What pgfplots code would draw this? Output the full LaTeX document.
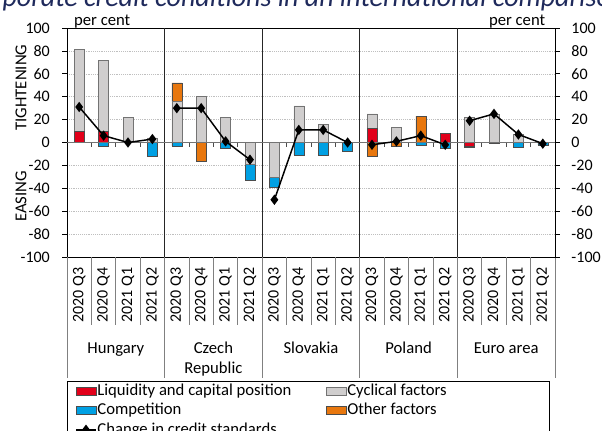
\documentclass[11pt,border=0pt]{standalone}
\usepackage{fontspec}
\setmainfont{Carlito}
\usepackage{pgfplots}
\usepackage{pgfplotstable}
\pgfplotsset{compat=1.18}

\definecolor{liqred}{RGB}{226,0,26}
\definecolor{cycgray}{RGB}{208,206,206}
\definecolor{compblue}{RGB}{0,160,227}
\definecolor{othorange}{RGB}{232,119,14}
\definecolor{titlenavy}{RGB}{31,42,92}

% positive contributions (stacked upwards)
\pgfplotstableread{
x liq cyc oth
0 10 71 0
1 10 62 0
2 0 22 0
3 0 4 0
4 0 36 16
5 0 40 0
6 0 22 0
7 0 0 0
8 0 0 0
9 0 32 0
10 0 16 0
11 0 0 0
12 12 13 0
13 0 13 0
14 0 0 23
15 8 0 0
16 0 22 0
17 0 25 0
18 0 7 0
19 0 0 0
}\postable

% negative contributions (stacked downwards)
\pgfplotstableread{
x liq cyc comp oth
0 0 0 0 0
1 0 0 -3 0
2 0 0 0 0
3 0 0 -12 0
4 0 0 -3 0
5 0 0 0 -16
6 0 0 -5 0
7 0 -19 -14 0
8 0 -30 -9 0
9 0 0 -11 0
10 0 0 -11 0
11 0 0 -8 0
12 0 0 0 -12
13 0 0 0 -3
14 0 0 -2 0
15 0 0 -5 0
16 -3 0 -1 0
17 0 0 -1 0
18 0 0 -4 0
19 0 0 -2 0
}\negtable

% change in credit standards, gaps between countries
\pgfplotstableread{
x y
0 31
1 6
2 0
3 3
3.5 nan
4 30
5 30
6 1
7 -15
7.5 nan
8 -50
9 11
10 11
11 0
11.5 nan
12 -2
13 1
14 6
15 -2
15.5 nan
16 19
17 25
18 7
19 -1
}\linetable

\pgfplotsset{
  common/.style={
    at={(50.25pt,129.75pt)}, anchor=south west,
    scale only axis, width=366pt, height=171.75pt,
    xmin=-0.5, xmax=19.5, ymin=-100, ymax=100,
    clip=false,
  },
  barleg/.style={legend image code/.code={\draw[##1] (0pt,-3pt) rectangle (15pt,3pt);}},
  linleg/.style={legend image code/.code={%
    \draw[##1, mark=none] (0pt,0pt) -- (15pt,0pt);
    \fill[black] (7.5pt,3pt) -- (5.25pt,0pt) -- (7.5pt,-3pt) -- (9.75pt,0pt) -- cycle;}},
}

\begin{document}
\fontsize{12.5}{15}\selectfont
\begin{tikzpicture}
\useasboundingbox (0,0) rectangle (451.5pt,322.5pt);

\node[anchor=base, font=\fontsize{21}{25}\selectfont\itshape, text=titlenavy]
  at (221pt,317.8pt) {Corporate credit conditions in an international comparison};

\begin{axis}[
  common,
  ybar stacked, bar width=7.5pt,
  axis line style={black, line width=0.6pt},
  tick align=outside,
  major tick length=3.5pt,
  ytick={-100,-80,...,100},
  yticklabels={-100,-80,-60,-40,-20,0,20,40,60,80,100},
  ytick pos=both, yticklabel pos=left,
  y tick style={black, line width=0.6pt},
  yticklabel style={xshift=-5pt, font=\fontsize{12}{14}\selectfont},
  xtick={0,...,19},
  xticklabels={2020 Q3,2020 Q4,2021 Q1,2021 Q2,2020 Q3,2020 Q4,2021 Q1,2021 Q2,2020 Q3,2020 Q4,2021 Q1,2021 Q2,2020 Q3,2020 Q4,2021 Q1,2021 Q2,2020 Q3,2020 Q4,2021 Q1,2021 Q2},
  x tick style={draw=none},
  xticklabel style={rotate=90, anchor=east, font=\fontsize{12}{14}\selectfont},
  ymajorgrids, grid style={densely dotted, black!25},
]
\addplot[fill=liqred, draw=black!70] table[x=x,y=liq]{\postable};
\addplot[fill=cycgray, draw=black!55] table[x=x,y=cyc]{\postable};
\addplot[fill=othorange, draw=black!70] table[x=x,y=oth]{\postable};

% country separators
\pgfplotsinvokeforeach{3.5,7.5,11.5,15.5}{
  \draw[black!85, line width=0.6pt] (axis cs:#1,-100) -- (axis cs:#1,100);
}
\pgfplotsinvokeforeach{-0.5,0.5,...,19.5}{
  \draw[black!50, line width=0.6pt] (axis cs:#1,-100) -- ++(0pt,-51pt);
}
\pgfplotsinvokeforeach{-0.5,3.5,7.5,11.5,15.5,19.5}{
  \draw[black!50, line width=0.6pt] (axis cs:#1,-100) -- ++(0pt,-90.75pt);
}

\node[anchor=base] at ([yshift=-72pt]axis cs:1.5,-100) {Hungary};
\node[anchor=base] at ([yshift=-72pt]axis cs:5.5,-100) {Czech};
\node[anchor=base] at ([yshift=-87pt]axis cs:5.5,-100) {Republic};
\node[anchor=base] at ([yshift=-72pt]axis cs:9.5,-100) {Slovakia};
\node[anchor=base] at ([yshift=-72pt]axis cs:13.5,-100) {Poland};
\node[anchor=base] at ([yshift=-72pt]axis cs:17.5,-100) {Euro area};

\node[anchor=base west] at ([xshift=1pt,yshift=2pt]axis cs:-0.5,100) {per cent};
\node[anchor=base east] at ([xshift=-3pt,yshift=2pt]axis cs:19.5,100) {per cent};
\node[rotate=90] at ([xshift=-34.5pt]axis cs:-0.5,48) {TIGHTENING};
\node[rotate=90] at ([xshift=-34.5pt]axis cs:-0.5,-47) {EASING};
\end{axis}

\begin{axis}[
  common,
  ybar stacked, bar width=7.5pt,
  hide x axis,
  axis y line*=right,
  axis line style={black, line width=0.6pt},
  tick align=outside,
  major tick length=3.5pt,
  ytick={-100,-80,...,100},
  yticklabels={-100,-80,-60,-40,-20,0,20,40,60,80,100},
  y tick style={black, line width=0.6pt},
  yticklabel style={xshift=4.5pt, font=\fontsize{12}{14}\selectfont},
  legend columns=2,
  legend cell align=left,
  legend style={at={(0,0)}, anchor=north west, yshift=-93pt,
    draw=black, inner xsep=6pt, inner ysep=1pt, row sep=2pt,
    nodes={inner xsep=0.5pt, inner ysep=1pt}},
]
\addplot[fill=liqred, draw=black!70, barleg] table[x=x,y=liq]{\negtable};
\addlegendentry{\makebox[171pt][l]{Liquidity and capital position}}
\addplot[fill=cycgray, draw=black!55, barleg] table[x=x,y=cyc]{\negtable};
\addlegendentry{\makebox[145pt][l]{Cyclical factors}}
\addplot[fill=compblue, draw=black!70, barleg] table[x=x,y=comp]{\negtable};
\addlegendentry{Competition}
\addplot[fill=othorange, draw=black!70, barleg] table[x=x,y=oth]{\negtable};
\addlegendentry{Other factors}
\addlegendimage{black, line width=1.1pt, linleg}
\addlegendentry{Change in credit standards}
\end{axis}

\begin{axis}[common, hide axis]
\draw[black!55, line width=0.75pt] (axis cs:-0.5,0) -- (axis cs:19.5,0);
\pgfplotsinvokeforeach{0.5,1.5,2.5,4.5,5.5,6.5,8.5,9.5,10.5,12.5,13.5,14.5,16.5,17.5,18.5}{
  \draw[black!70, line width=0.6pt] (axis cs:#1,0) -- ++(0pt,-3.5pt);
}
\addplot[black, line width=1.1pt, mark=diamond*, mark size=3pt, unbounded coords=jump]
  table[x=x,y=y]{\linetable};
\end{axis}
\end{tikzpicture}
\end{document}
